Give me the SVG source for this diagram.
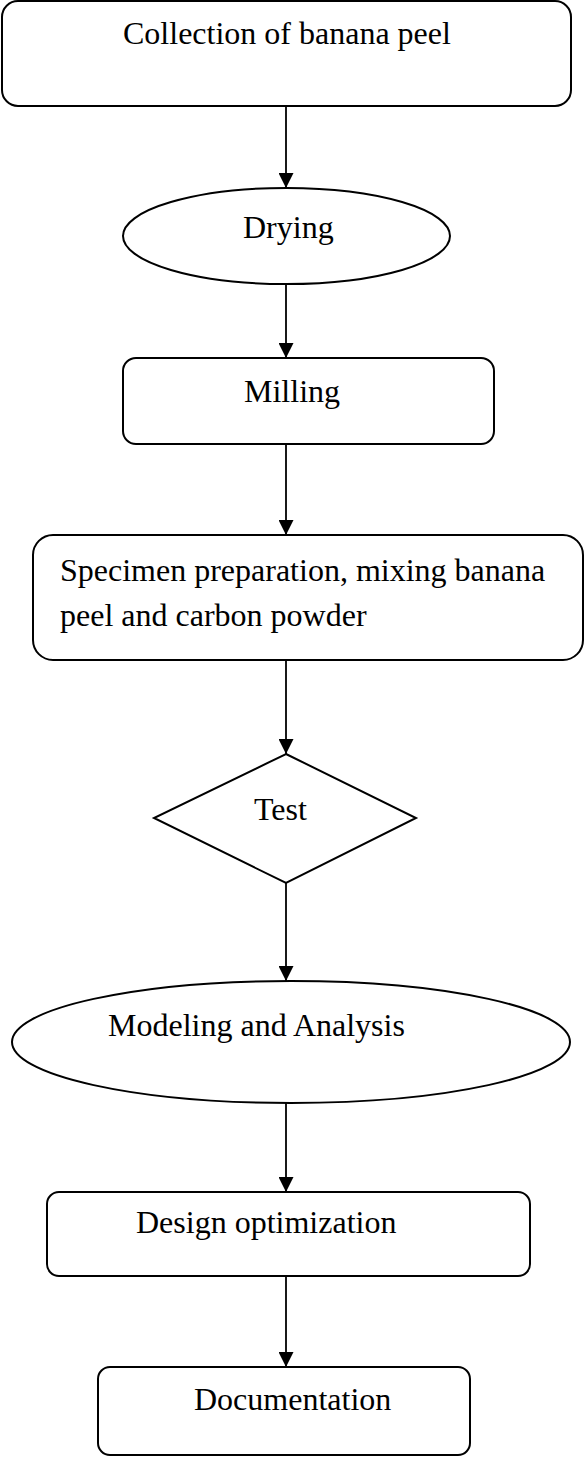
<svg xmlns="http://www.w3.org/2000/svg" width="584" height="1458" viewBox="0 0 584 1458">
<style>
.shape{fill:#ffffff;stroke:#000000;stroke-width:2}
.lbl{font-family:"Liberation Serif","Times New Roman",serif;font-size:32px;fill:#000000}
.conn{stroke:#000000;stroke-width:1.8;fill:none;marker-end:url(#arrow)}
</style>
<defs>
<marker id="arrow" markerUnits="userSpaceOnUse" markerWidth="15" markerHeight="15" refX="15" refY="7.5" orient="auto">
<path d="M0,0 L15,7.5 L0,15 z" fill="#000000"/>
</marker>
</defs>
<rect width="584" height="1458" fill="#ffffff"/>
<g id="connectors">
<line class="conn" x1="286" y1="106" x2="286" y2="188"/>
<line class="conn" x1="286" y1="284" x2="286" y2="358"/>
<line class="conn" x1="286" y1="444" x2="286" y2="535"/>
<line class="conn" x1="286" y1="660" x2="286" y2="754"/>
<line class="conn" x1="286" y1="883" x2="286" y2="981"/>
<line class="conn" x1="286" y1="1103" x2="286" y2="1192"/>
<line class="conn" x1="286" y1="1276" x2="286" y2="1367"/>
</g>
<g id="n1">
<rect class="shape" x="2" y="1" width="569" height="105" rx="16"/>
<text class="lbl" x="123" y="44">Collection of banana peel</text>
</g>
<g id="n2">
<ellipse class="shape" cx="286.5" cy="236" rx="163.5" ry="48"/>
<text class="lbl" x="243" y="238">Drying</text>
</g>
<g id="n3">
<rect class="shape" x="123" y="358" width="371" height="86" rx="13"/>
<text class="lbl" x="244" y="402">Milling</text>
</g>
<g id="n4">
<rect class="shape" x="33" y="535" width="550" height="125" rx="20"/>
<text class="lbl" x="60" y="581">Specimen preparation, mixing banana</text>
<text class="lbl" x="60" y="626">peel and carbon powder</text>
</g>
<g id="n5">
<polygon class="shape" points="286,754 416,818 286,883 154,818"/>
<text class="lbl" x="254" y="820">Test</text>
</g>
<g id="n6">
<ellipse class="shape" cx="291" cy="1042" rx="279" ry="61"/>
<text class="lbl" x="108" y="1036">Modeling and Analysis</text>
</g>
<g id="n7">
<rect class="shape" x="47" y="1192" width="483" height="84" rx="12"/>
<text class="lbl" x="136" y="1233">Design optimization</text>
</g>
<g id="n8">
<rect class="shape" x="98" y="1367" width="372" height="88" rx="12"/>
<text class="lbl" x="194" y="1410">Documentation</text>
</g>
</svg>
